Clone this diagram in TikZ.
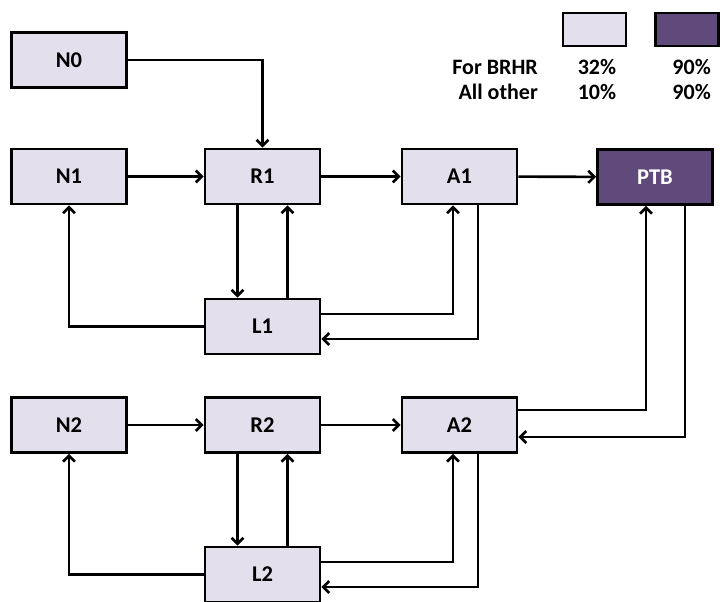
\documentclass[tikz,border=0pt]{standalone}
\usepackage{fontspec}
\setmainfont{Carlito}
\usetikzlibrary{arrows.meta}
\definecolor{boxlight}{HTML}{E4DFEC}
\definecolor{boxdark}{HTML}{604A7B}
\begin{document}
\begin{tikzpicture}[x=1pt,y=-1pt,
  state/.style={draw=black,line width=2.8pt,fill=boxlight,minimum width=115pt,minimum height=55pt,
    inner sep=0pt,font=\fontsize{22.5}{26}\selectfont\bfseries},
  flow/.style={draw=black,line width=2.6pt,-{Straight Barb[length=6pt,width=12pt,line width=2.6pt]}},
  legendbox/.style={draw=black,line width=2.8pt,minimum width=63pt,minimum height=33pt,inner sep=0pt},
  legendtext/.style={font=\fontsize{22}{26}\selectfont\bfseries,inner sep=0pt}]
\useasboundingbox (0,0) rectangle (720,602);

% states
\node[state] (N0) at (69,60) {N0};
\node[state] (N1) at (69,176.5) {N1};
\node[state] (R1) at (262.5,176.5) {R1};
\node[state] (A1) at (459.5,176.5) {A1};
\node[state,fill=boxdark,text=white] (PTB) at (655,177) {PTB};
\node[state] (L1) at (262.5,326.5) {L1};
\node[state] (N2) at (69,425) {N2};
\node[state] (R2) at (262.5,425) {R2};
\node[state] (A2) at (459.5,425) {A2};
\node[state] (L2) at (262.5,574.5) {L2};

% legend
\node[legendbox,fill=boxlight] (lgA) at (594.5,29.5) {};
\node[legendbox,fill=boxdark] (lgB) at (687,29.5) {};
\node[legendtext,anchor=east] (lbl1) at (538,67) {For BRHR};
\node[legendtext,anchor=east] (lbl2) at (538,92) {All other};
\node[legendtext] (v1a) at (597,67) {32\%};
\node[legendtext] (v2a) at (597,92) {10\%};
\node[legendtext,anchor=east] (v1b) at (711,67) {90\%};
\node[legendtext,anchor=east] (v2b) at (711,92) {90\%};

% upper chain
\draw[flow] (N0.east) -| (R1.north);
\draw[flow] (N1) -- (R1);
\draw[flow] (R1) -- (A1);
\draw[flow] (A1) -- (PTB);
\draw[flow] ([xshift=-25pt]R1.south) -- ([xshift=-25pt]L1.north);
\draw[flow] ([xshift=25pt]L1.north) -- ([xshift=25pt]R1.south);
\draw[flow] ([yshift=12.5pt]L1.east) -| ([xshift=-6.5pt]A1.south);
\draw[flow] ([xshift=18.5pt]A1.south) |- ([yshift=-12.5pt]L1.east);
\draw[flow] (L1.west) -| (N1.south);

% lower chain
\draw[flow] (N2) -- (R2);
\draw[flow] (R2) -- (A2);
\draw[flow] ([yshift=15pt]A2.east) -| ([xshift=-9pt]PTB.south);
\draw[flow] ([xshift=30pt]PTB.south) |- ([yshift=-12pt]A2.east);
\draw[flow] ([xshift=-25pt]R2.south) -- ([xshift=-25pt]L2.north);
\draw[flow] ([xshift=25pt]L2.north) -- ([xshift=25pt]R2.south);
\draw[flow] ([yshift=12.5pt]L2.east) -| ([xshift=-6.5pt]A2.south);
\draw[flow] ([xshift=18.5pt]A2.south) |- ([yshift=-12.5pt]L2.east);
\draw[flow] (L2.west) -| (N2.south);
\end{tikzpicture}
\end{document}
